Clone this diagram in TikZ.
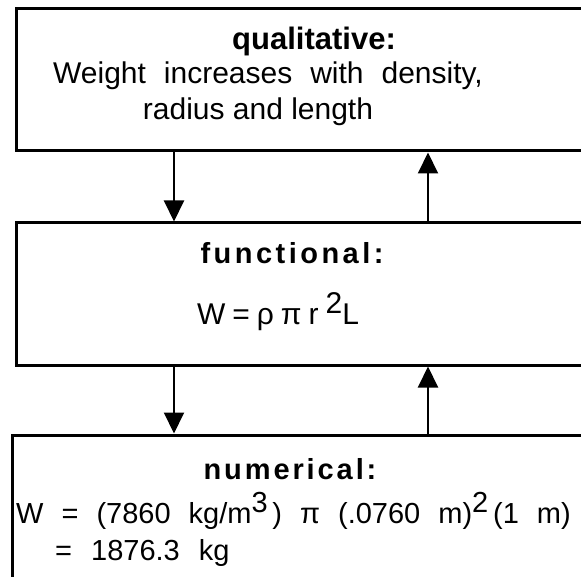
\documentclass[tikz,border=0pt]{standalone}
\usepackage{fontspec}
\setmainfont{Liberation Sans}
\usetikzlibrary{arrows.meta}
\tikzset{
  box/.style={draw, line width=3pt, rectangle, inner sep=0pt},
  txt/.style={inner sep=0pt, anchor=base, font=\fontsize{30}{36}\selectfont},
  ttl/.style={txt, font=\fontsize{29}{34}\selectfont\bfseries},
  arr/.style={line width=2pt, -{Triangle[width=20pt,length=21pt]}}
}
\newcommand{\wsp}{\hspace{18pt}}
\newcommand{\gsp}{\hspace{7pt}}
\begin{document}
\begin{tikzpicture}[x=1pt,y=-1pt]
\useasboundingbox (0,0) rectangle (581,577);
\clip (0,0) rectangle (581,577);
\node[box, minimum width=633.5pt, minimum height=142pt] (b1) at (333.25,80) {};
\node[box, minimum width=633.5pt, minimum height=142pt] (b2) at (333.25,294) {};
\node[box, minimum width=637.5pt, minimum height=215pt] (b3) at (331.25,542.5) {};
\coordinate (L) at (174,0);
\coordinate (R) at (428,0);
\draw[arr] (b1.south -| L) -- (b2.north -| L);
\draw[arr] (b2.north -| R) -- (b1.south -| R);
\draw[arr] (b2.south -| L) -- (b3.north -| L);
\draw[arr] (b3.north -| R) -- (b2.south -| R);
\node[ttl, font=\fontsize{31}{36}\selectfont\bfseries] (t1a) at (314,50) {qualitative:};
\node[txt] (t1b) at (268,84) {Weight\wsp increases\wsp with\wsp density,};
\node[txt] (t1c) at (258,120) {radius and length};
\node[ttl] (t2a) at (292,264) {\addfontfeature{LetterSpace=12}functional:};
\node[txt] (t2b) at (278,325) {W\gsp=\gsp ρ\gsp π\gsp r\gsp\raisebox{12pt}{2}L};
\node[ttl] (t3a) at (290,479) {\addfontfeature{LetterSpace=10}numerical:};
\node[txt, anchor=base west, font=\fontsize{29}{34}\selectfont] (t3b) at (16,523) {\spaceskip=18pt W = (7860 kg/m\raisebox{11pt}{3}\,) π (.0760 m)\raisebox{11pt}{2}\,(1 m)};
\node[txt, anchor=base west, font=\fontsize{29}{34}\selectfont] (t3c) at (55,560) {\spaceskip=19pt = 1876.3 kg};
\end{tikzpicture}
\end{document}
